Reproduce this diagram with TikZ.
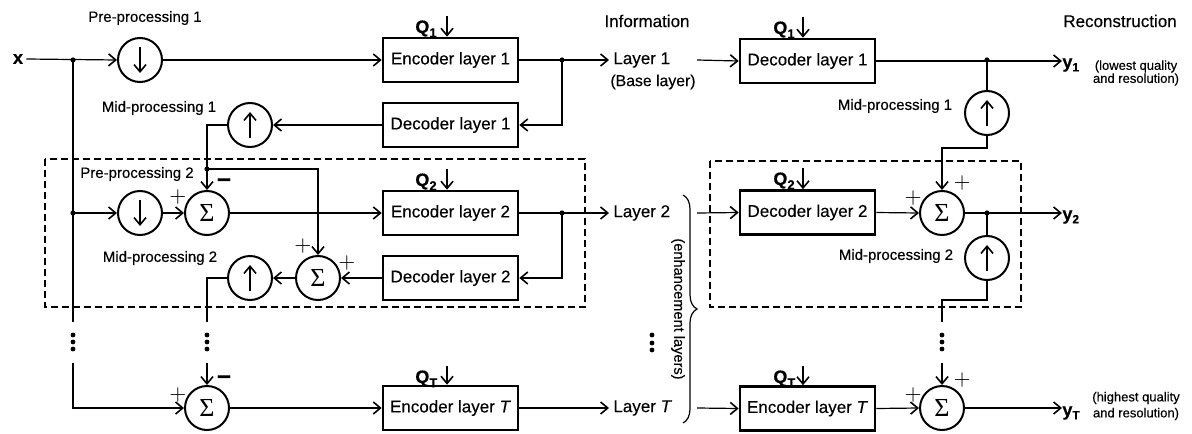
\documentclass[tikz,border=0pt]{standalone}
\usepackage{fontspec}
\setmainfont{Liberation Sans}[FakeBold=0.35]
\newfontfamily\sigfont{Liberation Serif}
\usetikzlibrary{arrows.meta,decorations.pathreplacing}

% quantiser and output labels with lowered indices
\newcommand\qlab[1]{\textbf{Q}\raisebox{-0.45ex}{\fontsize{6.5}{6.5}\selectfont\bfseries #1}}
\newcommand\ylab[1]{\textbf{y}\raisebox{-0.35ex}{\fontsize{6}{6}\selectfont\bfseries #1}}

\tikzset{
  chev/.tip={Straight Barb[length=3.6pt,width=6pt,line width=0.8pt]},
  conn/.style={line width=0.6pt,-chev},
  wire/.style={line width=0.6pt},
  block/.style={draw,line width=1.3pt,minimum width=67.5pt,minimum height=22pt,
    inner sep=0pt,font=\fontsize{8.5}{10}\selectfont},
  opcirc/.style={draw,circle,line width=1pt,minimum size=22pt,inner sep=0pt},
  sigma/.style={opcirc,font=\sigfont\fontsize{13}{13}\selectfont},
  lbl/.style={font=\fontsize{7.5}{9}\selectfont,inner sep=0pt},
  heading/.style={font=\fontsize{8.5}{10}\selectfont,inner sep=0pt},
  laytxt/.style={font=\fontsize{8.5}{10}\selectfont,inner sep=2pt,anchor=west},
  remark/.style={font=\fontsize{6.5}{6.5}\selectfont,align=center,inner sep=0pt},
  sgn/.style={font=\fontsize{11}{11}\selectfont,inner sep=0pt},
  minus/.style={font=\fontsize{12}{12}\selectfont\bfseries,inner sep=0pt},
  qlbl/.style={font=\fontsize{9}{10}\selectfont,inner sep=0pt,anchor=base west},
  ylbl/.style={font=\fontsize{9}{10}\selectfont,inner sep=0pt,anchor=base west},
  jdot/.style={circle,fill,inner sep=0pt,minimum size=2.6pt},
  vdot/.style={circle,fill,inner sep=0pt,minimum size=2.4pt},
  grpbox/.style={draw,line width=0.6pt,dash pattern=on 3.5pt off 2pt},
}

\begin{document}
\begin{tikzpicture}[x=0.5pt,y=-0.5pt]
\useasboundingbox (0,0) rectangle (1192,433);

% dashed groups of the second layer
\draw[grpbox] (45,159) rectangle (585,307);
\draw[grpbox] (710,161) rectangle (1021,307);

% column headings
\node[heading] (hinfo) at (647,21) {Information};
\node[heading] (hrec) at (1120,21) {Reconstruction};

% ---------------- encoder side ----------------
\node[font=\fontsize{9}{10}\selectfont\bfseries,inner sep=1.5pt] (xin) at (18,59) {x};
\node[opcirc] (pre1) at (140,60) {};
\node[lbl] (lpre1) at (145,18) {Pre-processing 1};
\node[block] (enc1) at (450.5,60) {Encoder layer 1};
\node[block] (dec1) at (450.5,125) {Decoder layer 1};
\node[opcirc] (mid1) at (250,125) {};
\node[lbl] (lmid1) at (159,108) {Mid-processing 1};

\node[opcirc] (pre2) at (140,213) {};
\node[lbl] (lpre2) at (137,174) {Pre-processing 2};
\node[sigma] (sum2) at (207,213) {Σ};
\node[block] (enc2) at (450.5,213) {Encoder layer 2};
\node[block] (dec2) at (450.5,278) {Decoder layer 2};
\node[sigma] (sum3) at (318,278) {Σ};
\node[opcirc] (mid2) at (250,278) {};
\node[lbl] (lmid2) at (160,258) {Mid-processing 2};

\node[sigma] (sumT) at (207,408) {Σ};
\node[block] (encT) at (450.5,408) {Encoder layer \textit{T}};

% transmitted layers
\node[laytxt] (lay1) at (609,60) {Layer 1};
\node[font=\fontsize{7.9}{9}\selectfont,inner sep=0pt] (base) at (653,82) {(Base layer)};
\node[laytxt] (lay2) at (609,213) {Layer 2};
\node[laytxt] (layT) at (609,408) {Layer \textit{T}};
\node[vdot] (md1) at (652,335) {};
\node[vdot] (md2) at (652,343) {};
\node[vdot] (md3) at (652,350) {};
\draw[wire,decorate,decoration={brace,amplitude=7pt}] (683,195) -- (683,423);
\node[font=\fontsize{7.3}{9}\selectfont,inner sep=0pt,rotate=-90] (enh) at (678,309) {(enhancement layers)};

% ---------------- decoder side ----------------
\node[block] (rdec1) at (807.5,61) {Decoder layer 1};
\node[block] (rdec2) at (807.5,212.5) {Decoder layer 2};
\node[block] (renc) at (807.5,408.5) {Encoder layer \textit{T}};
\node[opcirc] (rmid1) at (987,113) {};
\node[lbl] (lrmid1) at (895,106) {Mid-processing 1};
\node[sigma] (rsum2) at (942,213) {Σ};
\node[opcirc] (rmid2) at (987,258) {};
\node[lbl] (lrmid2) at (896,256) {Mid-processing 2};
\node[sigma] (rsumT) at (942,408) {Σ};
\node[ylbl] (y1) at (1062,68) {\ylab{1}};
\node[ylbl] (y2) at (1062,220) {\ylab{2}};
\node[ylbl] (yT) at (1062,416) {\ylab{T}};
\node[remark] (nlow) at (1136,73) {(lowest quality\\and resolution)};
\node[remark,font=\fontsize{6.5}{8}\selectfont] (nhigh) at (1136,406) {(highest quality\\and resolution)};

% arrows inside the resampling circles
\foreach \c in {pre1,pre2}
  \draw[conn] ([yshift=6.5pt]\c.center) -- ([yshift=-6.5pt]\c.center);
\foreach \c in {mid1,mid2,rmid1,rmid2}
  \draw[conn] ([yshift=-6.5pt]\c.center) -- ([yshift=6.5pt]\c.center);

% quantisers
\node[qlbl] (q1) at (415,33) {\qlab{1}};
\node[qlbl] (q2) at (415,186) {\qlab{2}};
\node[qlbl] (qT) at (415,383) {\qlab{T}};
\node[qlbl] (rq1) at (773,34) {\qlab{1}};
\node[qlbl] (rq2) at (773,185) {\qlab{2}};
\node[qlbl] (rqT) at (773,383) {\qlab{T}};
\coordinate (qa1) at (447,16);
\coordinate (qa2) at (447,169);
\coordinate (qaT) at (447,366);
\coordinate (rqa1) at (803,17);
\coordinate (rqa2) at (803,168);
\coordinate (rqaT) at (803,366);
\draw[conn] (qa1) -- (qa1 |- enc1.north);
\draw[conn] (qa2) -- (qa2 |- enc2.north);
\draw[conn] (qaT) -- (qaT |- encT.north);
\draw[conn] (rqa1) -- (rqa1 |- rdec1.north);
\draw[conn] (rqa2) -- (rqa2 |- rdec2.north);
\draw[conn] (rqaT) -- (rqaT |- renc.north);

% signs at the adders
\node[sgn] (s2a) at (178,197) {$+$};
\node[minus] (s2b) at (224,183) {−};
\node[sgn] (s3a) at (303,246) {$+$};
\node[sgn] (s3b) at (347,263) {$+$};
\node[sgn] (sTa) at (178,395) {$+$};
\node[minus] (sTb) at (224,380) {−};
\node[sgn] (r2a) at (913,198) {$+$};
\node[sgn] (r2b) at (962,183) {$+$};
\node[sgn] (rTa) at (913,395) {$+$};
\node[sgn] (rTb) at (962,380) {$+$};

% junctions and break points
\coordinate (jx) at (73,60);
\coordinate (jx2) at (73,213);
\coordinate (xcut1) at (73,322);
\coordinate (xcut2) at (73,363);
\coordinate (j1) at (562,60);
\coordinate (j2) at (207,169);
\coordinate (j3) at (562,213);
\coordinate (mcut1) at (207,322);
\coordinate (mcut2) at (207,363);
\coordinate (l1out) at (697,60);
\coordinate (l2out) at (697,213);
\coordinate (lTout) at (697,408);
\coordinate (j4) at (987,60);
\coordinate (j5) at (987,213);
\coordinate (rb1) at (987,148);
\coordinate (rb2) at (987,300);
\coordinate (rcut1) at (942,322);
\coordinate (rcut2) at (942,363);

% ---------------- encoder connections ----------------
\draw[conn] (xin.east) -- (pre1.west);
\draw[conn] (pre1.east) -- (enc1.west);
\draw[conn] (enc1.east) -- (lay1.west);
\draw[conn] (j1) |- (dec1.east);
\draw[conn] (dec1.west) -- (mid1.east);
\draw[conn] (mid1.west) -| (sum2.north);
\draw[conn] (j2) -| (sum3.north);
\draw[wire] (jx) -- (xcut1);
\draw[conn] (xcut2) |- (sumT.west);
\draw[conn] (jx2) -- (pre2.west);
\draw[conn] (pre2.east) -- (sum2.west);
\draw[conn] (sum2.east) -- (enc2.west);
\draw[conn] (enc2.east) -- (lay2.west);
\draw[conn] (j3) |- (dec2.east);
\draw[conn] (dec2.west) -- (sum3.east);
\draw[conn] (sum3.west) -- (mid2.east);
\draw[wire] (mid2.west) -| (mcut1);
\draw[conn] (mcut2) -- (sumT.north);
\draw[conn] (sumT.east) -- (encT.west);
\draw[conn] (encT.east) -- (layT.west);

% ---------------- decoder connections ----------------
\draw[conn] (l1out) -- (rdec1.west);
\draw[conn] (rdec1.east) -- (rdec1.east -| y1.west);
\draw[wire] (rmid1.north) -- (j4);
\draw[conn] (rmid1.south) -- (rb1) -| (rsum2.north);
\draw[conn] (l2out) -- (rdec2.west);
\draw[conn] (rdec2.east) -- (rsum2.west);
\draw[conn] (rsum2.east) -- (rsum2.east -| y2.west);
\draw[wire] (j5) -- (rmid2.north);
\draw[wire] (rmid2.south) -- (rb2) -| (rcut1);
\draw[conn] (rcut2) -- (rsumT.north);
\draw[conn] (lTout) -- (renc.west);
\draw[conn] (renc.east) -- (rsumT.west);
\draw[conn] (rsumT.east) -- (rsumT.east -| yT.west);

% junction dots
\foreach \p in {jx,jx2,j1,j2,j3,j4,j5}
  \node[jdot] at (\p) {};

% vertical ellipses in the broken lines
\foreach \xx in {73,207,942}
  \foreach \yy in {335,342,349}
    \node[vdot] at (\xx,\yy) {};

\end{tikzpicture}
\end{document}
